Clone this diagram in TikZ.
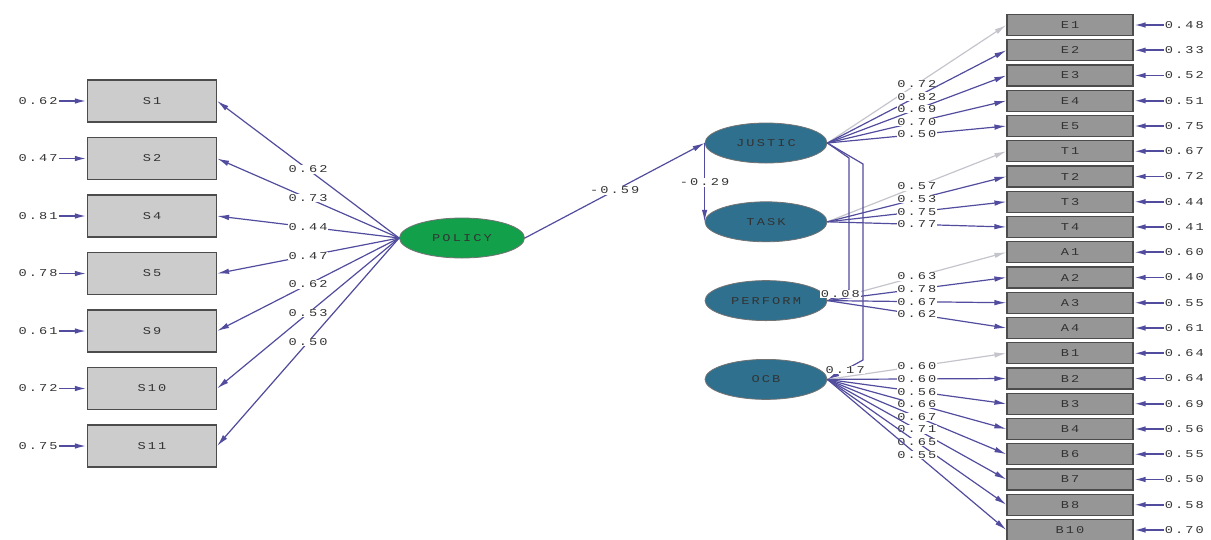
\documentclass[tikz,border=0pt]{standalone}
\usepackage{fontspec}
\newfontfamily\lisfont[FakeStretch=1.3,LetterSpace=20]{Liberation Mono}
\usepackage{tikz}
\usetikzlibrary{shapes.geometric, arrows.meta, positioning}
\definecolor{pathblue}{RGB}{82,76,158}
\definecolor{fixgrey}{RGB}{196,196,204}
\definecolor{policygreen}{RGB}{18,160,74}
\definecolor{latentteal}{RGB}{46,112,142}
\definecolor{boxlight}{RGB}{204,204,204}
\definecolor{boxdark}{RGB}{150,150,150}

\begin{document}
\begin{tikzpicture}[
	x=1pt, y=-1pt,
	every node/.style={font=\fontsize{10.5}{11}\lisfont, text=black!80},
	leftbox/.style={rectangle, draw=black!70, line width=1.2pt, fill=boxlight, minimum width=129pt, minimum height=42pt},
	rightbox/.style={rectangle, draw=black!70, line width=1.2pt, fill=boxdark, minimum width=126pt, minimum height=21pt, inner sep=1pt},
	latent/.style={ellipse, draw=black!55, line width=0.8pt, fill=latentteal, minimum width=122pt, minimum height=40pt, inner sep=0pt},
	lab/.style={fill=white, inner sep=0.6pt},
	errlab/.style={inner sep=1pt},
	arrow/.style={-{Latex[length=12pt,width=5.5pt]}, draw=pathblue, line width=1.2pt},
	errarrow/.style={arrow, line width=1.8pt},
	fixed/.style={arrow, draw=fixgrey}
]
\useasboundingbox (0,0) rectangle (1211,539);

% Policy indicators
\node[leftbox] (S1) at (152,101) {S1};
\node[leftbox, below=14.3pt of S1] (S2) {S2};
\node[leftbox, below=14.3pt of S2] (S4) {S4};
\node[leftbox, below=14.3pt of S4] (S5) {S5};
\node[leftbox, below=14.3pt of S5] (S9) {S9};
\node[leftbox, below=14.3pt of S9] (S10) {S10};
\node[leftbox, below=14.3pt of S10] (S11) {S11};

% Latent variables
\node[latent, fill=policygreen, minimum width=125pt] (POLICY) at (462,238) {POLICY};
\node[latent] (JUSTIC) at (766,143) {JUSTIC};
\node[latent, below=38pt of JUSTIC] (TASK) {TASK};
\node[latent, below=38pt of TASK] (PERFORM) {PERFORM};
\node[latent, below=38pt of PERFORM] (OCB) {OCB};

% Indicators on the right
\node[rightbox] (E1) at (1070,25) {E1};
\node[rightbox, below=3.05pt of E1] (E2) {E2};
\node[rightbox, below=3.05pt of E2] (E3) {E3};
\node[rightbox, below=3.05pt of E3] (E4) {E4};
\node[rightbox, below=3.05pt of E4] (E5) {E5};
\node[rightbox, below=3.05pt of E5] (T1) {T1};
\node[rightbox, below=3.05pt of T1] (T2) {T2};
\node[rightbox, below=3.05pt of T2] (T3) {T3};
\node[rightbox, below=3.05pt of T3] (T4) {T4};
\node[rightbox, below=3.05pt of T4] (A1) {A1};
\node[rightbox, below=3.05pt of A1] (A2) {A2};
\node[rightbox, below=3.05pt of A2] (A3) {A3};
\node[rightbox, below=3.05pt of A3] (A4) {A4};
\node[rightbox, below=3.05pt of A4] (B1) {B1};
\node[rightbox, below=3.05pt of B1] (B2) {B2};
\node[rightbox, below=3.05pt of B2] (B3) {B3};
\node[rightbox, below=3.05pt of B3] (B4) {B4};
\node[rightbox, below=3.05pt of B4] (B6) {B6};
\node[rightbox, below=3.05pt of B6] (B7) {B7};
\node[rightbox, below=3.05pt of B7] (B8) {B8};
\node[rightbox, below=3.05pt of B8] (B10) {B10};

% Error variances
\foreach \s/\v in {S1/0.62, S2/0.47, S4/0.81, S5/0.78, S9/0.61, S10/0.72, S11/0.75} {
	\node[errlab, left=28pt of \s] (e\s) {\v};
	\draw[errarrow] (e\s) -- (\s);
}
\foreach \b/\v in {E1/0.48, E2/0.33, E3/0.52, E4/0.51, E5/0.75, T1/0.67, T2/0.72, T3/0.44, T4/0.41,
	A1/0.60, A2/0.40, A3/0.55, A4/0.61, B1/0.64, B2/0.64, B3/0.69, B4/0.56, B6/0.55, B7/0.50, B8/0.58, B10/0.70} {
	\node[errlab, right=30pt of \b] (e\b) {\v};
	\draw[errarrow] (e\b) -- (\b);
}

% Loadings of POLICY
\foreach \s/\v in {S1/0.62, S2/0.73, S4/0.44, S5/0.47, S9/0.62, S10/0.53, S11/0.50}
	\draw[arrow] (POLICY.west) -- (\s.east) node[lab, pos=0.5] {\v};

% Loadings on the right (first one fixed)
\draw[fixed] (JUSTIC.east) -- (E1.west) node[lab, pos=0.5] {0.72};
\foreach \b/\v in {E2/0.82, E3/0.69, E4/0.70, E5/0.50}
	\draw[arrow] (JUSTIC.east) -- (\b.west) node[lab, pos=0.5] {\v};
\draw[fixed] (TASK.east) -- (T1.west) node[lab, pos=0.5] {0.57};
\foreach \b/\v in {T2/0.53, T3/0.75, T4/0.77}
	\draw[arrow] (TASK.east) -- (\b.west) node[lab, pos=0.5] {\v};
\draw[fixed] (PERFORM.east) -- (A1.west) node[lab, pos=0.5] {0.63};
\foreach \b/\v in {A2/0.78, A3/0.67, A4/0.62}
	\draw[arrow] (PERFORM.east) -- (\b.west) node[lab, pos=0.5] {\v};
\draw[fixed] (OCB.east) -- (B1.west) node[lab, pos=0.5] {0.60};
\foreach \b/\v in {B2/0.60, B3/0.56, B4/0.66, B6/0.67, B7/0.71, B8/0.65, B10/0.55}
	\draw[arrow] (OCB.east) -- (\b.west) node[lab, pos=0.5] {\v};

% Structural paths
\draw[arrow] (POLICY.east) -- (JUSTIC.west) node[lab, pos=0.5] {-0.59};
\draw[arrow] (JUSTIC.west) -- (TASK.west) node[lab, pos=0.5] {-0.29};
\draw[arrow] (JUSTIC.east) -- (849,158) -- (849,290) -- (PERFORM.east) node[lab, pos=0.4] {0.08};
\draw[arrow] (JUSTIC.east) -- (863,164) -- (863,360) -- (OCB.east) node[lab, pos=0.5] {0.17};

\end{tikzpicture}
\end{document}
